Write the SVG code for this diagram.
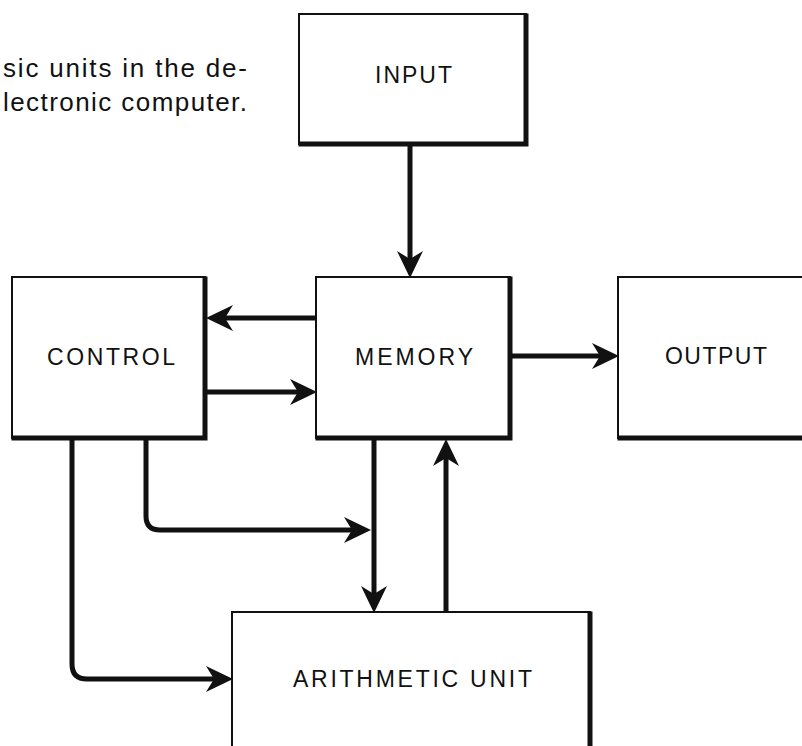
<svg xmlns="http://www.w3.org/2000/svg" width="802" height="746" viewBox="0 0 802 746">
<style>
.box{fill:#fff;stroke:#111;stroke-width:2}
.shadow{fill:none;stroke:#111;stroke-width:5;stroke-linecap:square}
.lbl{font-family:"Liberation Sans",Arial,sans-serif;font-size:23px;fill:#111}
.cap{font-family:"Liberation Sans",Arial,sans-serif;font-size:26px;fill:#111}
.wire{fill:none;stroke:#111;stroke-width:5}
</style>
<defs>
<marker id="ah" viewBox="0 0 28 28" refX="14" refY="14" markerWidth="28" markerHeight="28" markerUnits="userSpaceOnUse" orient="auto">
<path d="M27,14 L0,1 L8,14 L0,27 Z" fill="#111"/>
</marker>
</defs>
<rect width="802" height="746" fill="#fff"/>
<g id="caption">
<text class="cap" x="3" y="77" textLength="244" lengthAdjust="spacing">sic units in the de-</text>
<text class="cap" x="3" y="111" textLength="244" lengthAdjust="spacing">lectronic computer.</text>
</g>
<g id="input">
<rect class="box" x="299" y="14" width="227" height="130"/>
<path class="shadow" d="M526,16 V144 H301"/>
<text class="lbl" x="375" y="83" textLength="77" lengthAdjust="spacing">INPUT</text>
</g>
<g id="control">
<rect class="box" x="12" y="277" width="193" height="161"/>
<path class="shadow" d="M205,279 V438 H14"/>
<text class="lbl" x="47" y="365" textLength="128" lengthAdjust="spacing">CONTROL</text>
</g>
<g id="memory">
<rect class="box" x="316" y="277" width="194" height="161"/>
<path class="shadow" d="M510,279 V438 H318"/>
<text class="lbl" x="355" y="365" textLength="118" lengthAdjust="spacing">MEMORY</text>
</g>
<g id="output">
<rect class="box" x="618" y="277" width="200" height="161"/>
<path class="shadow" d="M805,438 H620"/>
<text class="lbl" x="665" y="364" textLength="102" lengthAdjust="spacing">OUTPUT</text>
</g>
<g id="arithmetic">
<rect class="box" x="232" y="612" width="358" height="150"/>
<path class="shadow" d="M590,614 V750"/>
<text class="lbl" x="293" y="687" textLength="239" lengthAdjust="spacing">ARITHMETIC UNIT</text>
</g>
<g id="connectors">
<path class="wire" d="M410,146 V265" marker-end="url(#ah)"/>
<path class="wire" d="M316,318 H219" marker-end="url(#ah)"/>
<path class="wire" d="M207,392 H304" marker-end="url(#ah)"/>
<path class="wire" d="M512,356 H606" marker-end="url(#ah)"/>
<path class="wire" d="M374,440 V600" marker-end="url(#ah)"/>
<path class="wire" d="M446,612 V452" marker-end="url(#ah)"/>
<path class="wire" d="M146,440 V516 Q146,530 160,530 H358" marker-end="url(#ah)"/>
<path class="wire" d="M72,440 V664 Q72,679 87,679 H220" marker-end="url(#ah)"/>
</g>
</svg>
